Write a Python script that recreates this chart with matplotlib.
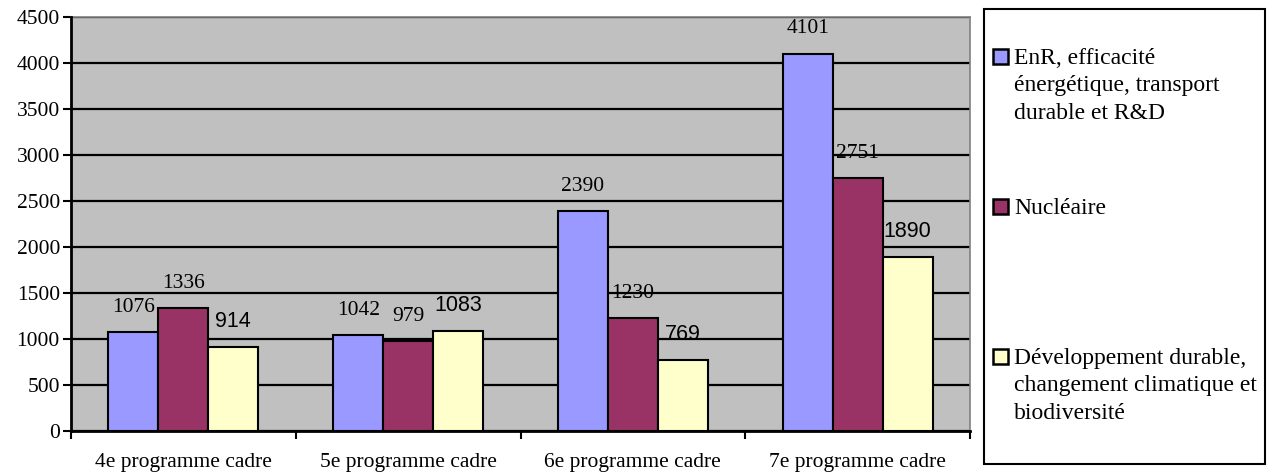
import matplotlib
matplotlib.use('Agg')
import matplotlib.pyplot as plt
from matplotlib.patches import Rectangle
import numpy as np

cats = ['4e programme cadre', '5e programme cadre', '6e programme cadre', '7e programme cadre']
enr = [1076, 1042, 2390, 4101]
nuc = [1336, 979, 1230, 2751]
dev = [914, 1083, 769, 1890]
series = [enr, nuc, dev]
names = ['EnR, efficacité\nénergétique, transport\ndurable et R&D',
         'Nucléaire',
         'Développement durable,\nchangement climatique et\nbiodiversité']
colors = ['#9999FF', '#993366', '#FFFFCC']
label_fonts = ['Liberation Serif', 'Liberation Serif', 'Liberation Sans']

plt.rcParams['font.family'] = ['Liberation Serif', 'DejaVu Sans']

W, H = 1273, 475
fig = plt.figure(figsize=(W / 100, H / 100), dpi=100)
ax = fig.add_axes([71 / W, 1 - 431 / H, (970 - 71) / W, (431 - 17) / H])
ax.set_facecolor('#C0C0C0')

x = np.arange(len(cats))
bw = 2 / 9
for i, (vals, c) in enumerate(zip(series, colors)):
    pos = x + (i - 1) * bw
    ax.bar(pos, vals, bw, color=c, edgecolor='black', linewidth=1.5, zorder=3)
    for px, v in zip(pos, vals):
        ax.annotate(str(v), (px, v), textcoords='offset points', xytext=(0, 11),
                    ha='center', va='bottom', fontsize=15.5,
                    family=label_fonts[i], zorder=4)

ax.set_xlim(-0.5, len(cats) - 0.5)
ax.set_ylim(0, 4500)
ax.set_yticks(np.arange(0, 4501, 500))
ax.yaxis.grid(True, color='black', linewidth=1.6, zorder=1)
ax.set_axisbelow(True)

ax.set_xticks(np.arange(len(cats) + 1) - 0.5)
ax.set_xticklabels([])
ax.set_xticks(x, minor=True)
ax.set_xticklabels(cats, minor=True, fontsize=15.5)
ax.tick_params(axis='x', which='minor', length=0, pad=16)
ax.tick_params(axis='x', which='major', length=6, width=1.5, direction='out')
ax.tick_params(axis='y', length=6, width=1.5, labelsize=15.5, pad=2)

for s in ['left', 'bottom']:
    ax.spines[s].set_linewidth(2)
    ax.spines[s].set_zorder(5)
for s in ['top', 'right']:
    ax.spines[s].set_color('#808080')
    ax.spines[s].set_linewidth(1.2)

# legend box
fig.add_artist(Rectangle((984 / W, 1 - 464 / H), (1265 - 984) / W, (464 - 9) / H,
                         transform=fig.transFigure, facecolor='white',
                         edgecolor='black', linewidth=1.5))
for i, (n, c) in enumerate(zip(names, colors)):
    top = 49 + 150 * i
    fig.add_artist(Rectangle((993 / W, 1 - (top + 15) / H), 15 / W, 15 / H,
                             transform=fig.transFigure, facecolor=c,
                             edgecolor='black', linewidth=1.8))
    fig.text(1014 / W, 1 - (top - 1) / H, n, ha='left', va='top',
             fontsize=17, linespacing=1.4)

fig.savefig('out.png', dpi=100)
